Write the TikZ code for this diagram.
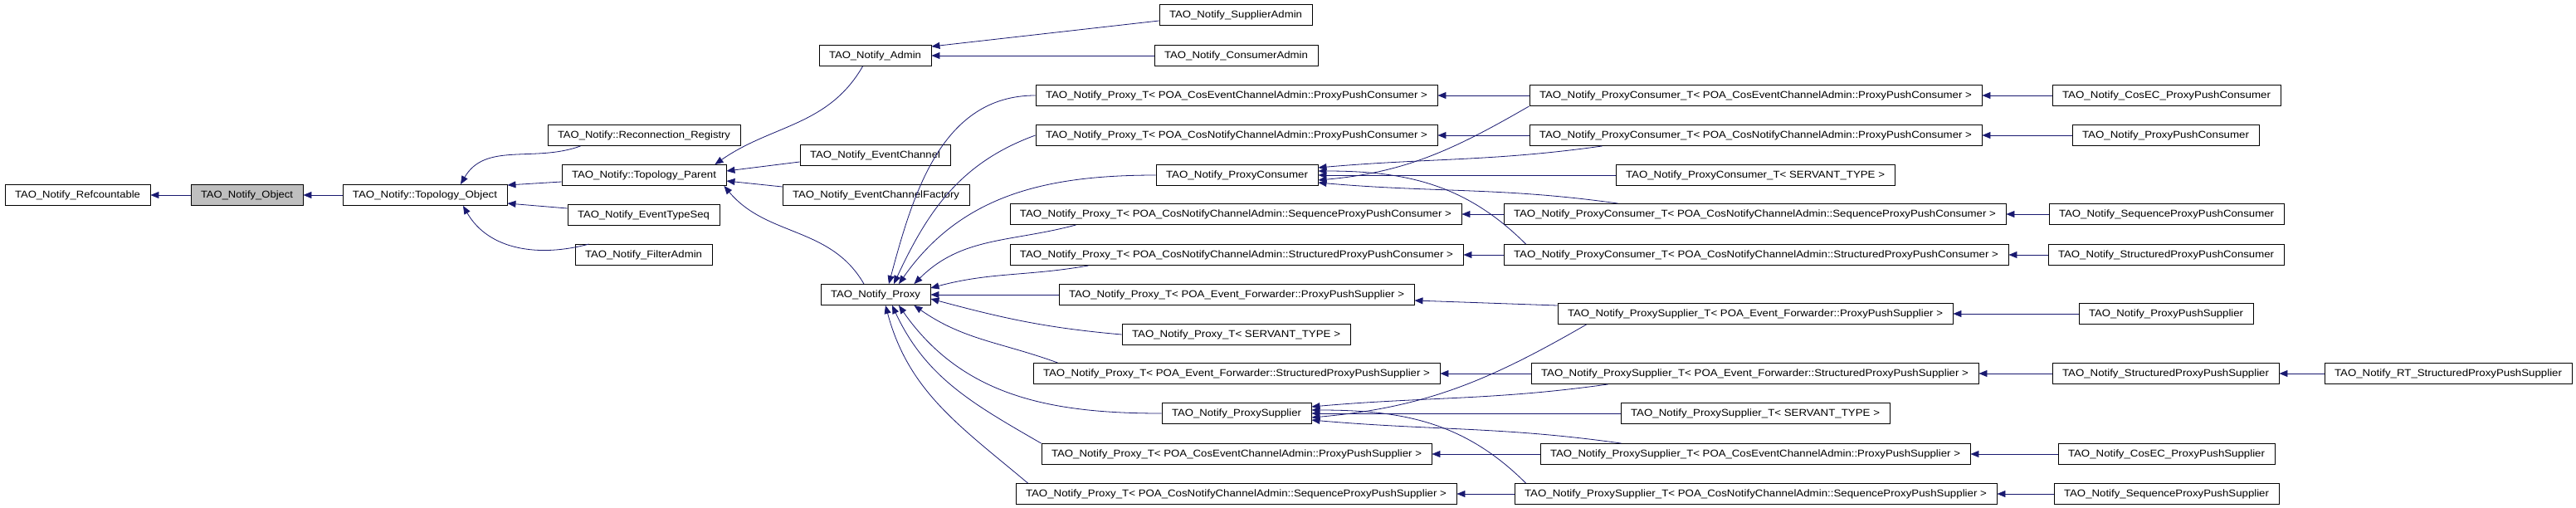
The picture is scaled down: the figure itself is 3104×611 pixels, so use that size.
\documentclass[tikz,border=0pt]{standalone}
\usepackage{fontspec}
\setmainfont{Liberation Sans}
\usetikzlibrary{arrows.meta,calc}
\definecolor{edgec}{HTML}{191970}
\newcommand\bx[2]{\resizebox{\dimexpr#1pt-24pt\relax}{\height}{#2}}
\tikzset{
 box/.style={draw=black,line width=0.9pt,fill=white,rectangle,minimum height=25pt,inner sep=0pt,font=\fontsize{12}{14}\selectfont},
 e/.style={draw=edgec,line width=0.8pt,-{Triangle[length=10pt,width=8pt]}}
}
\newcommand\N[6]{\node[box,minimum width=#4pt,#5] (#1) at (#2,#3) {\bx{#4}{#6}};}
\begin{document}
\begin{tikzpicture}[x=1pt,y=-1pt]
\useasboundingbox (0,0) rectangle (3104,611);
\N{ref}{93.5}{235}{175}{}{TAO\_Notify\_Refcountable}
\N{obj}{297.5}{235}{135}{fill=black!25}{TAO\_Notify\_Object}
\N{tobj}{512}{235}{198}{}{TAO\_Notify::Topology\_Object}
\N{reg}{776}{163}{232}{}{TAO\_Notify::Reconnection\_Registry}
\N{tpar}{776}{211}{198}{}{TAO\_Notify::Topology\_Parent}
\N{ets}{775.5}{259}{183}{}{TAO\_Notify\_EventTypeSeq}
\N{fadm}{775.5}{307}{165}{}{TAO\_Notify\_FilterAdmin}
\N{adm}{1054.5}{67}{135}{}{TAO\_Notify\_Admin}
\N{ec}{1054.5}{187}{181}{}{TAO\_Notify\_EventChannel}
\N{ecf}{1055.5}{235}{225}{}{TAO\_Notify\_EventChannelFactory}
\N{proxy}{1055}{355}{132}{}{TAO\_Notify\_Proxy}
\N{sadm}{1489}{18}{184}{}{TAO\_Notify\_SupplierAdmin}
\N{cadm}{1489.5}{67}{197}{}{TAO\_Notify\_ConsumerAdmin}
\N{ptA}{1490}{115}{484}{}{TAO\_Notify\_Proxy\_T< POA\_CosEventChannelAdmin::ProxyPushConsumer >}
\N{ptB}{1490}{163}{484}{}{TAO\_Notify\_Proxy\_T< POA\_CosNotifyChannelAdmin::ProxyPushConsumer >}
\N{pcons}{1490.5}{211}{195}{}{TAO\_Notify\_ProxyConsumer}
\N{ptC}{1489}{258}{544}{}{TAO\_Notify\_Proxy\_T< POA\_CosNotifyChannelAdmin::SequenceProxyPushConsumer >}
\N{ptD}{1490}{307}{546}{}{TAO\_Notify\_Proxy\_T< POA\_CosNotifyChannelAdmin::StructuredProxyPushConsumer >}
\N{ptE}{1490}{355}{428}{}{TAO\_Notify\_Proxy\_T< POA\_Event\_Forwarder::ProxyPushSupplier >}
\N{ptF}{1489.5}{403}{275}{}{TAO\_Notify\_Proxy\_T< SERVANT\_TYPE >}
\N{ptG}{1490}{450}{490}{}{TAO\_Notify\_Proxy\_T< POA\_Event\_Forwarder::StructuredProxyPushSupplier >}
\N{psup}{1490}{498}{180}{}{TAO\_Notify\_ProxySupplier}
\N{ptH}{1490}{547}{470}{}{TAO\_Notify\_Proxy\_T< POA\_CosEventChannelAdmin::ProxyPushSupplier >}
\N{ptI}{1489.5}{595}{531}{}{TAO\_Notify\_Proxy\_T< POA\_CosNotifyChannelAdmin::SequenceProxyPushSupplier >}
\N{pcA}{2115.5}{115}{545}{}{TAO\_Notify\_ProxyConsumer\_T< POA\_CosEventChannelAdmin::ProxyPushConsumer >}
\N{pcB}{2115.5}{163}{545}{}{TAO\_Notify\_ProxyConsumer\_T< POA\_CosNotifyChannelAdmin::ProxyPushConsumer >}
\N{pcS}{2115}{211}{336}{}{TAO\_Notify\_ProxyConsumer\_T< SERVANT\_TYPE >}
\N{pcC}{2114.5}{258}{605}{}{TAO\_Notify\_ProxyConsumer\_T< POA\_CosNotifyChannelAdmin::SequenceProxyPushConsumer >}
\N{pcD}{2116}{307}{608}{}{TAO\_Notify\_ProxyConsumer\_T< POA\_CosNotifyChannelAdmin::StructuredProxyPushConsumer >}
\N{psE}{2115}{378}{476}{}{TAO\_Notify\_ProxySupplier\_T< POA\_Event\_Forwarder::ProxyPushSupplier >}
\N{psG}{2114.5}{450}{539}{}{TAO\_Notify\_ProxySupplier\_T< POA\_Event\_Forwarder::StructuredProxyPushSupplier >}
\N{psS}{2115}{498}{324}{}{TAO\_Notify\_ProxySupplier\_T< SERVANT\_TYPE >}
\N{psH}{2115}{547}{518}{}{TAO\_Notify\_ProxySupplier\_T< POA\_CosEventChannelAdmin::ProxyPushSupplier >}
\N{psI}{2115.5}{595}{581}{}{TAO\_Notify\_ProxySupplier\_T< POA\_CosNotifyChannelAdmin::SequenceProxyPushSupplier >}
\N{lA}{2610.5}{115}{275}{}{TAO\_Notify\_CosEC\_ProxyPushConsumer}
\N{lB}{2609.5}{163}{225}{}{TAO\_Notify\_ProxyPushConsumer}
\N{lC}{2610.5}{258}{283}{}{TAO\_Notify\_SequenceProxyPushConsumer}
\N{lD}{2610}{307}{284}{}{TAO\_Notify\_StructuredProxyPushConsumer}
\N{lE}{2610}{378}{210}{}{TAO\_Notify\_ProxyPushSupplier}
\N{lG}{2609.5}{450}{273}{}{TAO\_Notify\_StructuredProxyPushSupplier}
\N{lRT}{2950}{450}{298}{}{TAO\_Notify\_RT\_StructuredProxyPushSupplier}
\N{lH}{2610.5}{547}{261}{}{TAO\_Notify\_CosEC\_ProxyPushSupplier}
\N{lI}{2610.5}{595}{271}{}{TAO\_Notify\_SequenceProxyPushSupplier}
% left part
\draw[e] (obj.west) -- (ref.east);
\draw[e] (tobj.west) -- (obj.east);
\draw[e] ($(reg.south west)+(40,0)$) to[out=200,in=60] ($(tobj.north)+(43,0)$);
\draw[e] ($(tpar.west)+(0,8)$) -- ($(tobj.east)+(0,-12)$);
\draw[e] ($(ets.west)+(0,-8)$) -- ($(tobj.east)+(0,10)$);
\draw[e] ($(fadm.north west)+(17,0)$) to[out=195,in=-60] ($(tobj.south)+(46,0)$);
\draw[e] ($(adm.south)+(-15,0)$) to[out=-120,in=35] ($(tpar.north east)+(-14,0)$);
\draw[e] ($(ec.west)+(0,8)$) -- ($(tpar.east)+(0,-5)$);
\draw[e] ($(ecf.west)+(0,-10)$) -- ($(tpar.east)+(0,7)$);
\draw[e] ($(proxy.north)+(-14,0)$) to[out=120,in=-50] ($(tpar.south east)+(-3,0)$);
\draw[e] ($(sadm.west)+(0,7)$) -- ($(adm.east)+(0,-11)$);
\draw[e] (cadm.west) -- (adm.east);
% into proxy
\draw[e] (ptA.west) to[out=180,in=75] ($(proxy.north)+(16,0)$);
\draw[e] (ptB.west) to[out=200,in=65] ($(proxy.north)+(22,0)$);
\draw[e] (pcons.west) to[out=180,in=55] ($(proxy.north)+(28,0)$);
\draw[e] ($(ptC.south west)+(80,0)$) to[out=195,in=45] ($(proxy.north east)+(-20,0)$);
\draw[e] ($(ptD.south west)+(95,0)$) to[out=190,in=15] ($(proxy.east)+(0,-8)$);
\draw[e] (ptE.west) -- (proxy.east);
\draw[e] (ptF.west) to[out=175,in=-15] ($(proxy.east)+(0,5)$);
\draw[e] ($(ptG.north west)+(30,0)$) to[out=160,in=-35] ($(proxy.south east)+(-20,0)$);
\draw[e] (psup.west) to[out=180,in=-55] ($(proxy.south)+(28,0)$);
\draw[e] ($(ptH.north west)+(0,0)$) to[out=150,in=-65] ($(proxy.south)+(20,0)$);
\draw[e] ($(ptI.north west)+(15,0)$) to[out=140,in=-75] ($(proxy.south)+(12,0)$);
% consumer templates
\draw[e] (pcA.west) -- (ptA.east);
\draw[e] (pcB.west) -- (ptB.east);
\draw[e] (pcC.west) -- (ptC.east);
\draw[e] (pcD.west) -- (ptD.east);
\draw[e] (pcA.south west) to[out=-150,in=5] ($(pcons.east)+(0,6)$);
\draw[e] ($(pcB.south west)+(88,0)$) to[out=188,in=5] ($(pcons.east)+(0,-9)$);
\draw[e] (pcS.west) -- (pcons.east);
\draw[e] ($(pcC.north west)+(138,0)$) to[out=172,in=-5] ($(pcons.east)+(0,9)$);
\draw[e] ($(pcD.north west)+(27,0)$) to[out=135,in=0] ($(pcons.east)+(0,-5)$);
% supplier templates
\draw[e] ($(psE.west)+(0,-10)$) -- ($(ptE.east)+(0,7)$);
\draw[e] (psG.west) -- (ptG.east);
\draw[e] (psH.west) -- (ptH.east);
\draw[e] (psI.west) -- (ptI.east);
\draw[e] ($(psE.south west)+(35,0)$) to[out=-150,in=5] ($(psup.east)+(0,5)$);
\draw[e] ($(psG.south west)+(93,0)$) to[out=188,in=5] ($(psup.east)+(0,-8)$);
\draw[e] (psS.west) -- (psup.east);
\draw[e] ($(psH.north west)+(98,0)$) to[out=172,in=-5] ($(psup.east)+(0,8)$);
\draw[e] ($(psI.north west)+(14,0)$) to[out=135,in=0] ($(psup.east)+(0,-4)$);
% leaves
\draw[e] (lA.west) -- (pcA.east);
\draw[e] (lB.west) -- (pcB.east);
\draw[e] (lC.west) -- (pcC.east);
\draw[e] (lD.west) -- (pcD.east);
\draw[e] (lE.west) -- (psE.east);
\draw[e] (lG.west) -- (psG.east);
\draw[e] (lRT.west) -- (lG.east);
\draw[e] (lH.west) -- (psH.east);
\draw[e] (lI.west) -- (psI.east);
\end{tikzpicture}
\end{document}
